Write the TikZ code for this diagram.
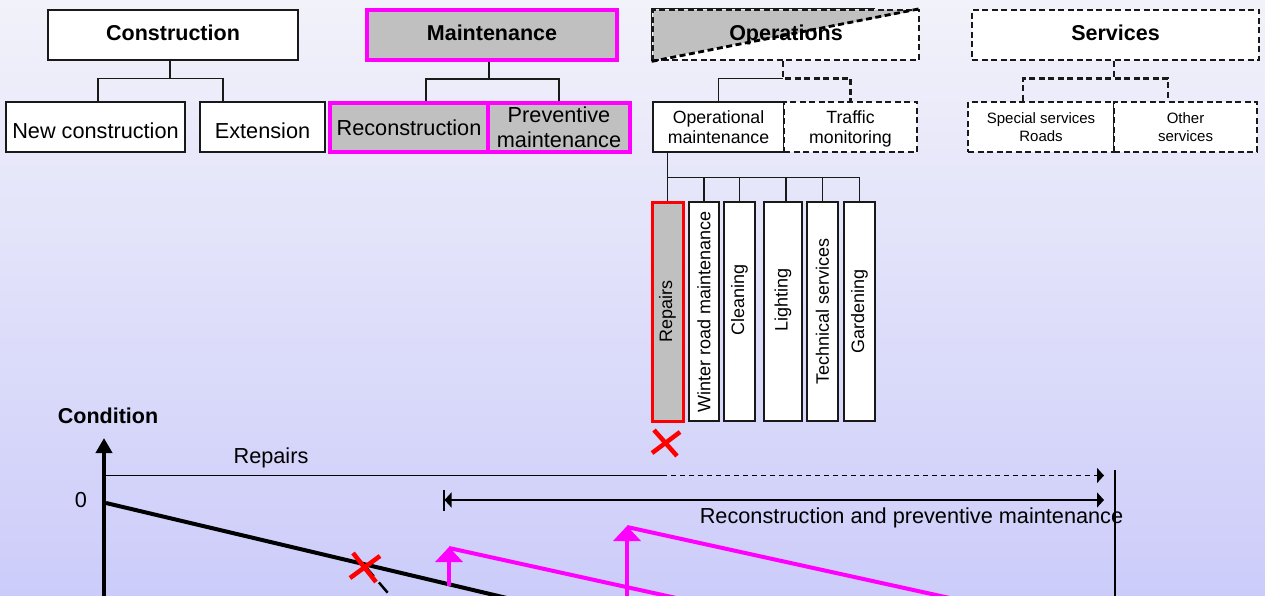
\documentclass[tikz,border=0pt]{standalone}
\usepackage{fontspec}
\setmainfont{Liberation Sans}
\usepackage{tikz}
\usetikzlibrary{arrows.meta,positioning}
\definecolor{bgTop}{RGB}{242,242,250}
\definecolor{bgBottom}{RGB}{204,204,250}
\definecolor{ltGray}{RGB}{192,192,192}
\definecolor{hiMagenta}{RGB}{255,0,255}
\definecolor{xRed}{RGB}{255,0,0}

\begin{document}
\begin{tikzpicture}[
  x=1pt, y=-1pt, % pixel grid, y grows downwards
  font=\fontsize{21.7}{25}\selectfont,
  org/.style = {rectangle, draw=black!90, line width=1.5pt, fill=white,
                inner sep=0pt, align=center, minimum height=50pt},
  headbox/.style = {org, minimum width=250pt, text depth=5pt,
                    font=\fontsize{21.5}{24}\selectfont\bfseries},
  lowtxt/.style = {text height=22.6pt},
  hilite/.style = {draw=hiMagenta, line width=4pt, fill=ltGray},
  dbox/.style = {dash pattern=on 6pt off 3.5pt, line width=2.8pt},
  subtxt/.style = {font=\fontsize{17.7}{20}\selectfont, text depth=-2pt},
  minitxt/.style = {font=\fontsize{15}{17.5}\selectfont},
  vbox/.style = {org, rotate=90, minimum width=219pt, minimum height=31pt,
                 font=\fontsize{18}{20}\selectfont},
  link/.style = {draw=black!90, line width=1.5pt},
  dlink/.style = {link, dbox},
  span/.style = {draw=black, line width=1.5pt},
  tipr/.style = {-{Triangle[length=7pt,width=15pt]}},
  axisline/.style = {draw=black, line width=4pt, -{Triangle[length=15pt,width=16pt]}},
  decline/.style = {draw=black, line width=4pt},
  lift/.style = {draw=hiMagenta, line width=4.5pt, -{Triangle[length=15pt,width=27pt]}},
  trend/.style = {draw=hiMagenta, line width=4pt},
  cross/.style = {draw=xRed, line width=4.5pt}
]
\useasboundingbox (0,0) rectangle (1265,596);
\shade[top color=bgTop, bottom color=bgBottom] (0,0) rectangle (1265,596);
\clip (0,0) rectangle (1265,596);

% Top row: the four fields
\node[headbox] (constr) at (173,35) {Construction};
\node[headbox, hilite] (maint) at (492,35) {Maintenance};
\node[headbox, dbox, minimum width=266pt,
      path picture={
        \fill[ltGray] (path picture bounding box.north west)
          -- (path picture bounding box.south west)
          -- (path picture bounding box.north east) -- cycle;}] (oper) at (786,35) {Operations};
\node[headbox, dbox, minimum width=287pt] (serv) at (1115.5,35) {Services};
\draw[link] (oper.south west) -- (oper.north west) -- ([xshift=-45pt]oper.north east);
\draw[dbox] (oper.south west) -- (oper.north east);

% Second row
\node[org, lowtxt, minimum width=179pt] (newc) at (95.5,127) {New construction};
\node[org, lowtxt, minimum width=125pt] (ext) at (262.5,127) {Extension};
\node[org, hilite, minimum width=158pt, minimum height=49pt] (recon) at (409,127.5) {Reconstruction};
\node[org, hilite, minimum width=142pt, minimum height=49pt] (prev) at (559,127.5) {Preventive\\maintenance};
\node[org, subtxt, minimum width=131pt] (opm) at (718.5,127) {Operational\\maintenance};
\node[org, subtxt, dbox, minimum width=133pt] (traf) at (850.5,127) {Traffic\\monitoring};
\node[org, minitxt, dbox, minimum width=146pt] (spec) at (1041,127) {Special services\\Roads};
\node[org, minitxt, dbox, minimum width=143pt] (oths) at (1185.5,127) {Other\\services};

% Tree connectors
\draw[link] ([xshift=-3pt]constr.south) -- ++(0,18) coordinate (cjn);
\draw[link] ([xshift=2.5pt]newc.north) |- (cjn) -| ([xshift=-39.5pt]ext.north);
\draw[link] ([xshift=-3pt]maint.south) -- ++(0,17) coordinate (mjn);
\draw[link] ([xshift=17pt]recon.north) |- (mjn) -| (prev.north);
\draw[dlink] ([xshift=-3pt]oper.south) -- ++(0,17) coordinate (ojn) -| (traf.north);
\draw[link] (opm.north) |- (ojn);
\draw[dlink] ([xshift=-1.5pt]serv.south) -- ++(0,17) coordinate (sjn);
\draw[dlink] ([xshift=-18pt]spec.north) |- (sjn) -| ([xshift=-17.5pt]oths.north);

% Operational maintenance tasks
\node[vbox, draw=xRed, line width=3pt, fill=ltGray] (repairs) at (667.5,311.5) {Repairs};
\node[vbox, minimum height=30pt] (winter) at (704,311.5) {Winter road maintenance};
\node[vbox] (clean) at (739.5,311.5) {\hspace*{24pt}Cleaning};
\node[vbox, minimum height=38pt] (light) at (783,311.5) {\hspace*{24pt}Lighting};
\node[vbox] (tech) at (822.5,311.5) {Technical services};
\node[vbox] (garden) at (859.5,311.5) {Gardening};

\draw[link] (opm.south -| repairs.east) -- (repairs.east);
\path (opm.south -| repairs.east) ++(0,25) coordinate (vjn);
\foreach \b in {winter,clean,tech,garden}
  \draw[link] (vjn) -| (\b.east);
\draw[link] (vjn) -| ([xshift=3pt]light.east);

\draw[cross] (654,430) -- (677,456);
\draw[cross] (652,453) -- (680,432);

% Condition chart
\coordinate (orig) at (104,600);
\coordinate (ytop) at (104,438);
\draw[axisline] (orig) -- (ytop);
\node[anchor=base, font=\fontsize{21.5}{24}\selectfont\bfseries] (cond) at (108,423) {Condition};
\node[anchor=base] (zero) at (81,507) {0};

\coordinate (repA) at (106,475.5);
\coordinate (repB) at (662,475.5);
\coordinate (repC) at (1104,475.5);
\draw[span] (repA) -- (repB);
\draw[span, tipr, dash pattern=on 5pt off 4pt] (repB) -- (repC);
\node[anchor=base] (replab) at (271,463) {Repairs};

\coordinate (recA) at (443,500);
\coordinate (recB) at (1104,500);
\draw[span, {Bar[width=21pt]Triangle[length=7pt,width=15pt]}-{Triangle[length=7pt,width=15pt]}] (recA) -- (recB);
\node[anchor=base] (reclab) at (911.5,523) {Reconstruction and preventive maintenance};
\draw[span] (1115,470) -- (1115,600);

% Deterioration without and with interventions
\draw[decline] (106,503) -- (606,621.5);
\draw[line width=2.5pt, dash pattern=on 13.5pt off 8pt] (365,566) -- (404,612);
\draw[cross] (353,553) -- (376,582);
\draw[cross] (350,578) -- (380,556);

\draw[lift] (449,586) -- (449,547);
\draw[trend] (449,548) -- (949,658);
\draw[lift] (627,640) -- (627,526);
\draw[trend] (627,527) -- (1027,615);

\end{tikzpicture}
\end{document}
